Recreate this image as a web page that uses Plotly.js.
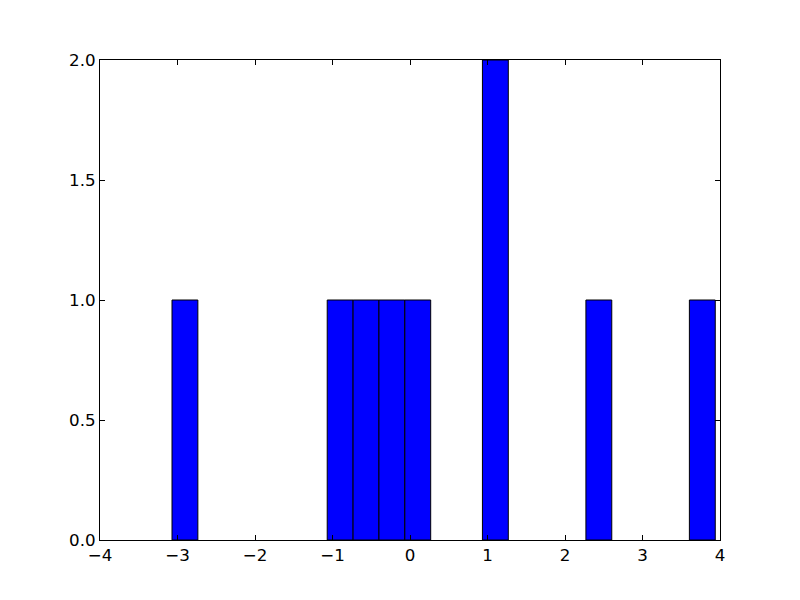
<!DOCTYPE html>
<html>
<head>
<meta charset="utf-8">
<script src="https://cdn.plot.ly/plotly-3.0.1.min.js"></script>
<style>html,body{margin:0;padding:0;background:#fff;}#chart{width:800px;height:600px;}</style>
</head>
<body>
<div id="chart"></div>
<script>
// Histogram data
const binStart = -3.071;
const binWidth = 0.3338;
const counts = [1,0,0,0,0,0,1,1,1,1,0,0,2,0,0,0,1,0,0,0,1];
const xTickVals = [-4,-3,-2,-1,0,1,2,3,4];
const yTickVals = [0,0.5,1,1.5,2];

const xs = [], ys = [];
counts.forEach((c,i) => {
  if (c > 0) { xs.push(binStart + (i + 0.5) * binWidth); ys.push(c); }
});

const trace = {
  type: 'bar',
  x: xs,
  y: ys,
  width: xs.map(() => binWidth),
  marker: {color: '#0000ff', line: {color: '#000000', width: 1}},
  hoverinfo: 'x+y'
};

const axisCommon = {
  showline: true, linecolor: '#000', linewidth: 1, mirror: 'ticks',
  ticks: 'inside', ticklen: 5, tickwidth: 1, tickcolor: '#000',
  showgrid: false, zeroline: false,
  tickfont: {family: 'DejaVu Sans', size: 16.7, color: '#000'}
};

const layout = {
  width: 800, height: 600,
  margin: {l: 100, r: 80, t: 60, b: 60, pad: 0},
  paper_bgcolor: '#fff', plot_bgcolor: '#fff',
  showlegend: false,
  bargap: 0,
  xaxis: Object.assign({}, axisCommon, {range: [-4, 4], tickvals: xTickVals, ticktext: xTickVals.map(v => v < 0 ? '\u2212' + Math.abs(v) : String(v))}),
  yaxis: Object.assign({}, axisCommon, {range: [0, 2], tickvals: yTickVals, ticktext: yTickVals.map(v => v.toFixed(1))})
};

Plotly.newPlot('chart', [trace], layout, {displayModeBar: false, staticPlot: true});
</script>
</body>
</html>
